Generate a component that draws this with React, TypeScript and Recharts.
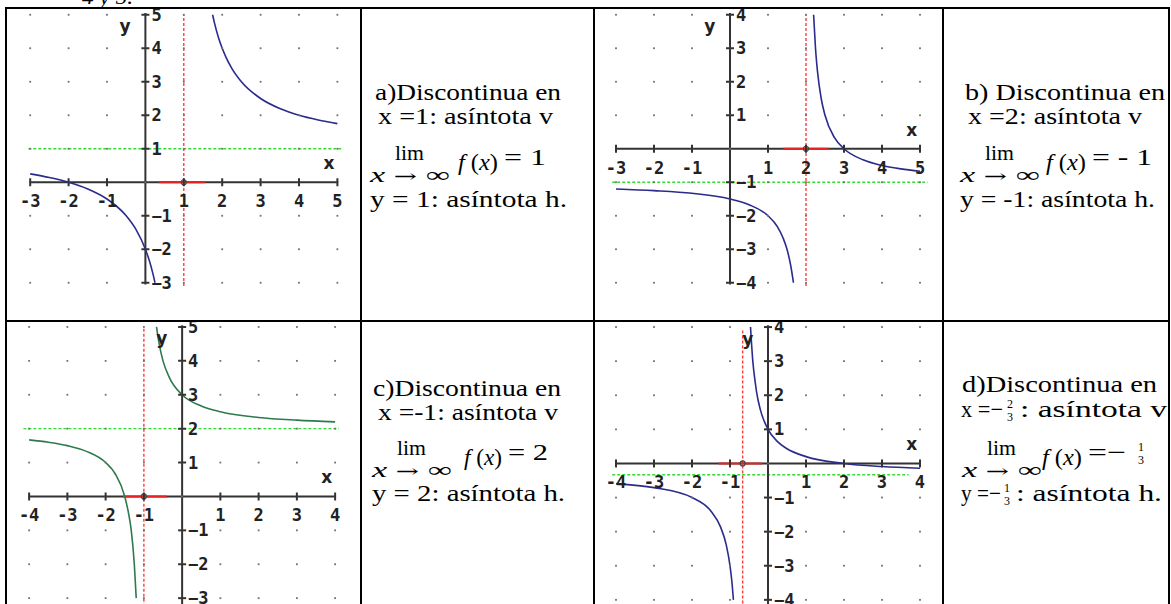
import React from 'react';
import { ComposedChart, Line, Scatter, XAxis, YAxis, ReferenceLine, ReferenceDot } from 'recharts';

type Pt = { x: number; y: number };

// a) asíntota vertical x = 1, horizontal y = 1
const A_TICKS_X = [-3, -2, -1, 1, 2, 3, 4, 5];
const A_TICKS_Y = [-3, -2, -1, 1, 2, 3, 4, 5];
const A_LEFT: Pt[] = [
  { x: -3, y: 0.25 }, { x: -2.5, y: 0.14 }, { x: -2, y: 0 }, { x: -1.5, y: -0.2 },
  { x: -1, y: -0.5 }, { x: -0.5, y: -1 }, { x: -0.25, y: -1.4 }, { x: 0, y: -2 },
  { x: 0.1, y: -2.33 }, { x: 0.2, y: -2.75 }, { x: 0.25, y: -3 },
];
const A_RIGHT: Pt[] = [
  { x: 1.75, y: 5 }, { x: 1.8, y: 4.75 }, { x: 1.9, y: 4.33 }, { x: 2, y: 4 }, { x: 2.1, y: 3.73 },
  { x: 2.25, y: 3.4 }, { x: 2.5, y: 3 }, { x: 3, y: 2.5 }, { x: 3.5, y: 2.2 },
  { x: 4, y: 2 }, { x: 4.5, y: 1.86 }, { x: 5, y: 1.75 },
];

// b) asíntota vertical x = 2, horizontal y = -1
const B_TICKS_X = [-3, -2, -1, 1, 2, 3, 4, 5];
const B_TICKS_Y = [-4, -3, -2, -1, 1, 2, 3, 4];
const B_LEFT: Pt[] = [
  { x: -3, y: -1.2 }, { x: -2, y: -1.25 }, { x: -1, y: -1.33 }, { x: 0, y: -1.5 },
  { x: 0.5, y: -1.67 }, { x: 1, y: -2 }, { x: 1.25, y: -2.33 }, { x: 1.4, y: -2.67 },
  { x: 1.5, y: -3 }, { x: 1.6, y: -3.5 }, { x: 1.67, y: -4 },
];
const B_RIGHT: Pt[] = [
  { x: 2.2, y: 4 }, { x: 2.25, y: 3 }, { x: 2.3, y: 2.33 }, { x: 2.4, y: 1.5 }, { x: 2.5, y: 1 },
  { x: 2.75, y: 0.33 }, { x: 3, y: 0 }, { x: 3.5, y: -0.33 }, { x: 4, y: -0.5 },
  { x: 4.5, y: -0.6 }, { x: 5, y: -0.67 },
];

// c) asíntota vertical x = -1, horizontal y = 2
const C_TICKS_X = [-4, -3, -2, -1, 1, 2, 3, 4];
const C_TICKS_Y = [-3, -2, -1, 1, 2, 3, 4, 5];
const C_LEFT: Pt[] = [
  { x: -4, y: 1.67 }, { x: -3.5, y: 1.6 }, { x: -3, y: 1.5 }, { x: -2.5, y: 1.33 },
  { x: -2, y: 1 }, { x: -1.75, y: 0.67 }, { x: -1.5, y: 0 }, { x: -1.4, y: -0.5 },
  { x: -1.33, y: -1 }, { x: -1.25, y: -2 }, { x: -1.2, y: -3 },
];
const C_RIGHT: Pt[] = [
  { x: -0.67, y: 5 }, { x: -0.6, y: 4.5 }, { x: -0.5, y: 4 }, { x: -0.33, y: 3.5 },
  { x: 0, y: 3 }, { x: 0.5, y: 2.67 }, { x: 1, y: 2.5 }, { x: 2, y: 2.33 },
  { x: 3, y: 2.25 }, { x: 4, y: 2.2 },
];

// d) asíntota vertical x = -2/3, horizontal y = -1/3
const D_TICKS_X = [-4, -3, -2, -1, 1, 2, 3, 4];
const D_TICKS_Y = [-4, -3, -2, -1, 1, 2, 3, 4];
const D_LEFT: Pt[] = [
  { x: -4, y: -0.6 }, { x: -3, y: -0.71 }, { x: -2, y: -1 }, { x: -1.5, y: -1.4 },
  { x: -1.25, y: -1.86 }, { x: -1.1, y: -2.38 }, { x: -1, y: -3 }, { x: -0.95, y: -3.47 },
  { x: -0.91, y: -4 },
];
const D_RIGHT: Pt[] = [
  { x: -0.46, y: 4 }, { x: -0.4, y: 3 }, { x: -0.33, y: 2.33 }, { x: -0.3, y: 2.09 },
  { x: -0.2, y: 1.57 }, { x: 0, y: 1 }, { x: 0.25, y: 0.64 }, { x: 0.5, y: 0.43 },
  { x: 1, y: 0.2 }, { x: 2, y: 0 }, { x: 3, y: -0.09 }, { x: 4, y: -0.14 },
];

const BLUE = '#2b2b8c';
const GREEN = '#2e7a4c';
const AXIS = '#333';
const LABEL_FONT = '"DejaVu Sans Mono", monospace';

interface GraphProps {
  left: number; top: number; ux: number; uy: number;
  ticksX: number[]; ticksY: number[];
  branches: Pt[][]; color: string;
  vAsym: number; vFrom: number; vTo: number;
  hAsym: number; hFrom: number; hTo: number;
  axisYFrom: number; axisYTo: number;
  seg: [number, number];
}

const GridDot = (p: any) => <rect x={p.cx - 0.9} y={p.cy - 0.9} width={1.8} height={1.8} fill="#707070" />;

const XTick = (p: any) => {
  const v = p.payload.x;
  return (
    <g>
      <line x1={p.cx} y1={p.cy - 4} x2={p.cx} y2={p.cy + 4} stroke={AXIS} strokeWidth={2} />
      <text x={p.cx} y={p.cy + 25} textAnchor="middle" fontFamily={LABEL_FONT} fontWeight="bold" fontSize={17} fill="#222">
        {v < 0 ? '-' + Math.abs(v) : String(v)}
      </text>
    </g>
  );
};

const YTick = (p: any) => {
  const v = p.payload.y;
  return (
    <g>
      <line x1={p.cx - 4} y1={p.cy} x2={p.cx + 4} y2={p.cy} stroke={AXIS} strokeWidth={2} />
      <text x={p.cx + 6} y={p.cy + 6} textAnchor="start" fontFamily={LABEL_FONT} fontWeight="bold" fontSize={17} fill="#222">
        {v < 0 ? '−' + Math.abs(v) : String(v)}
      </text>
    </g>
  );
};

const AxisName = (p: any) => (
  <text x={p.cx} y={p.cy + 6} textAnchor="middle" fontFamily='"DejaVu Sans", sans-serif' fontWeight="bold" fontSize={17} fill="#222">
    {p.payload.t}
  </text>
);

function Graph(p: GraphProps) {
  const pad = 0.5;
  const xMin = p.ticksX[0];
  const xMax = p.ticksX[p.ticksX.length - 1];
  const yMin = p.ticksY[0];
  const yMax = p.ticksY[p.ticksY.length - 1];
  const w = (xMax - xMin + 2 * pad) * p.ux;
  const h = (yMax - yMin + 2 * pad) * p.uy;
  const cols = [...p.ticksX, 0].sort((a, b) => a - b);
  const rows = [...p.ticksY, 0].sort((a, b) => a - b);
  const dots = cols.flatMap((x) => rows.map((y) => ({ x, y })));
  const xTicks = p.ticksX.map((x) => ({ x, y: 0 }));
  const yTicks = p.ticksY.map((y) => ({ x: 0, y }));
  const names = [
    { x: xMax - 0.22, y: 0.57, t: 'x' },
    { x: -0.53, y: yMax - 0.34, t: 'y' },
  ];
  return (
    <div style={{ position: 'absolute', left: p.left - pad * p.ux, top: p.top - pad * p.uy }}>
      <ComposedChart width={w} height={h} margin={{ top: 0, right: 0, bottom: 0, left: 0 }}>
        <XAxis type="number" dataKey="x" domain={[xMin - pad, xMax + pad]} hide allowDataOverflow />
        <YAxis type="number" dataKey="y" domain={[yMin - pad, yMax + pad]} hide allowDataOverflow />
        <Scatter data={dots} shape={GridDot} isAnimationActive={false} />
        <ReferenceLine segment={[{ x: p.hFrom, y: p.hAsym }, { x: p.hTo, y: p.hAsym }]} stroke="#33dd33" strokeWidth={1.4} strokeDasharray="3 2" />
        <ReferenceLine segment={[{ x: p.vAsym, y: p.vFrom }, { x: p.vAsym, y: p.vTo }]} stroke="#ff3d3d" strokeWidth={1.4} strokeDasharray="3 2" />
        <ReferenceLine segment={[{ x: xMin, y: 0 }, { x: xMax, y: 0 }]} stroke={AXIS} strokeWidth={2} />
        <ReferenceLine segment={[{ x: 0, y: p.axisYFrom }, { x: 0, y: p.axisYTo }]} stroke={AXIS} strokeWidth={2} />
        <ReferenceLine segment={[{ x: p.seg[0], y: 0 }, { x: p.seg[1], y: 0 }]} stroke="#e82222" strokeWidth={2} />
        <ReferenceDot x={p.vAsym} y={0} r={2.5} fill="none" stroke="#444" strokeWidth={1.2} />
        <Scatter data={xTicks} shape={XTick} isAnimationActive={false} />
        <Scatter data={yTicks} shape={YTick} isAnimationActive={false} />
        <Scatter data={names} shape={AxisName} isAnimationActive={false} />
        {p.branches.map((b, i) => (
          <Line key={i} data={b} dataKey="y" type="monotone" stroke={p.color} strokeWidth={1.6} dot={false} isAnimationActive={false} />
        ))}
      </ComposedChart>
    </div>
  );
}

const SERIF = '"Liberation Serif", "Times New Roman", serif';

const T = ({ x, y, w, s = 23, children }: any) => (
  <text x={x} y={y} textLength={w} lengthAdjust="spacingAndGlyphs" fontSize={s} fontFamily={SERIF} fill="#000">
    {children}
  </text>
);

const Frac = ({ x, y, n, d }: any) => (
  <g fontFamily={SERIF} fontSize={12} textAnchor="middle">
    <text x={x} y={y - 9}>{n}</text>
    <text x={x} y={y + 4}>{d}</text>
  </g>
);

const Lim = ({ dx, dy, fx, fw, eq, ew, xw = 80 }: any) => (
  <g>
    <T x={dx + 25} y={dy} w={29} s={20}>lim</T>
    <T x={dx} y={dy + 22} w={xw} s={21}>
      <tspan fontStyle="italic">x</tspan> <tspan fontFamily='"DejaVu Serif", serif' fontSize={17}>→</tspan> ∞
    </T>
    <T x={fx} y={dy + 10} w={fw} s={23}><tspan fontStyle="italic">f</tspan> (<tspan fontStyle="italic">x</tspan>)</T>
    {eq && <T x={fx + fw + 6} y={dy + 5} w={ew} s={23}>{eq}</T>}
  </g>
);

function Border({ x, y, w, h }: any) {
  return <div style={{ position: 'absolute', left: x, top: y, width: w, height: h, background: '#000' }} />;
}

export default function App() {
  return (
    <div style={{ position: 'absolute', left: 0, top: 0, width: 1171, height: 604, background: '#fff', overflow: 'hidden' }}>
      <Graph left={30} top={15} ux={38.4} uy={33.5} ticksX={A_TICKS_X} ticksY={A_TICKS_Y}
        branches={[A_LEFT, A_RIGHT]} color={BLUE}
        vAsym={1} vFrom={-3.1} vTo={5} hAsym={1} hFrom={-3.05} hTo={5.1}
        axisYFrom={-3.05} axisYTo={5.05} seg={[0.35, 1.55]} />
      <Graph left={616} top={15} ux={38} uy={33.5} ticksX={B_TICKS_X} ticksY={B_TICKS_Y}
        branches={[B_LEFT, B_RIGHT]} color={BLUE}
        vAsym={2} vFrom={-4.1} vTo={4} hAsym={-1} hFrom={-3.1} hTo={5.2}
        axisYFrom={-4.05} axisYTo={4.05} seg={[1.4, 2.6]} />
      <Graph left={29} top={327} ux={38.25} uy={33.9} ticksX={C_TICKS_X} ticksY={C_TICKS_Y}
        branches={[C_LEFT, C_RIGHT]} color={GREEN}
        vAsym={-1} vFrom={-3.4} vTo={5} hAsym={2} hFrom={-4.15} hTo={4.1}
        axisYFrom={-3.4} axisYTo={5.05} seg={[-1.55, -0.4]} />
      <Graph left={616} top={327} ux={38} uy={34.1} ticksX={D_TICKS_X} ticksY={D_TICKS_Y}
        branches={[D_LEFT, D_RIGHT]} color={BLUE}
        vAsym={-0.667} vFrom={-4.4} vTo={3.9} hAsym={-0.333} hFrom={-4.1} hTo={3.7}
        axisYFrom={-4.4} axisYTo={4.05} seg={[-1.3, -0.15]} />

      <svg width={1171} height={604} style={{ position: 'absolute', left: 0, top: 0 }}>
        <text x={82} y={4} textLength={51} lengthAdjust="spacingAndGlyphs" fontSize={20} fontStyle="italic" fontFamily={SERIF}>4 y 5.</text>

        <T x={375} y={100} w={186}>a)Discontinua en</T>
        <T x={378} y={124} w={175}>x =1: asíntota v</T>
        <Lim dx={370} dy={160} fx={458} fw={40} eq="= 1" ew={42} />
        <T x={370} y={207} w={197}>y = 1: asíntota h.</T>

        <T x={965} y={100} w={200}>b) Discontinua en</T>
        <T x={968} y={124} w={174}>x =2: asíntota v</T>
        <Lim dx={960} dy={160} fx={1046} fw={40} eq="= - 1" ew={60} />
        <T x={960} y={207} w={195}>y = -1: asíntota h.</T>

        <T x={373} y={396} w={188}>c)Discontinua en</T>
        <T x={378} y={420} w={180}>x =-1: asíntota v</T>
        <Lim dx={372} dy={455} fx={464} fw={38} eq="= 2" ew={40} />
        <T x={372} y={501} w={193}>y = 2: asíntota h.</T>

        <T x={962} y={392} w={195}>d)Discontinua en</T>
        <T x={961} y={417} w={42}>x =−</T>
        <Frac x={1010} y={417} n="2" d="3" />
        <T x={1020} y={417} w={147}>: asíntota v</T>
        <Lim dx={962} dy={455} fx={1042} fw={40} eq="=−" ew={38} />
        <Frac x={1141} y={460} n="1" d="3" />
        <T x={961} y={501} w={40}>y =−</T>
        <Frac x={1007} y={501} n="1" d="3" />
        <T x={1016} y={501} w={146}>: asíntota h.</T>
      </svg>

      <Border x={5} y={7} w={1165} h={2} />
      <Border x={5} y={320} w={1165} h={2} />
      <Border x={5} y={7} w={2} h={600} />
      <Border x={360} y={7} w={2} h={600} />
      <Border x={593} y={7} w={2} h={600} />
      <Border x={942} y={7} w={2} h={600} />
      <Border x={1168} y={7} w={2} h={600} />
    </div>
  );
}
